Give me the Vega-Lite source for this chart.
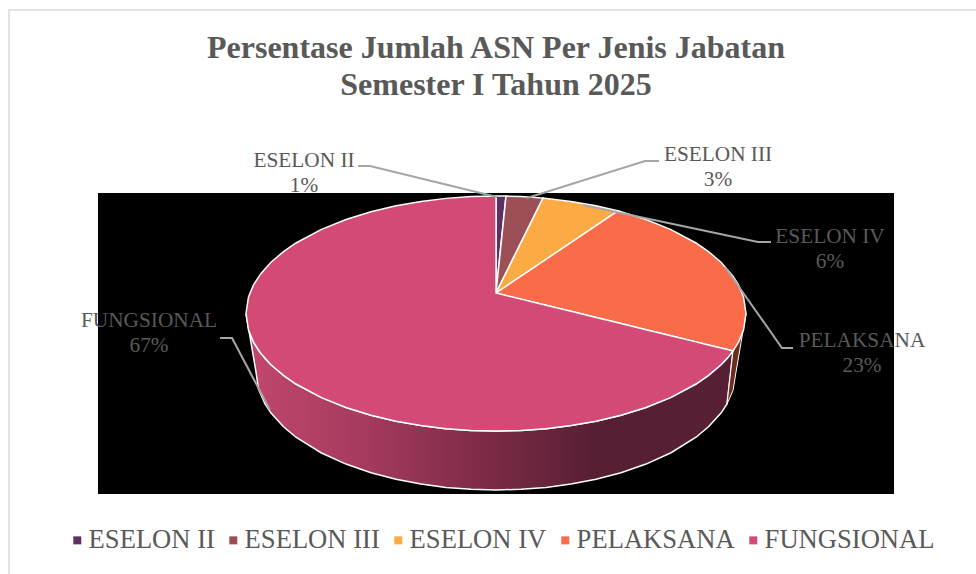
{"$schema":"https://vega.github.io/schema/vega-lite/v6.json","width":976,"height":574,"autosize":"none","padding":0,"background":"white","view":{"stroke":null},
"title":{"text":["Persentase Jumlah ASN Per Jenis Jabatan","Semester I Tahun 2025"],"anchor":"middle","frame":"group","dx":8,"offset":-102,"font":"Liberation Serif","fontSize":32,"fontWeight":"bold","color":"#595959","lineHeight":37},
"datasets":{
"bidang":[{"nama":"latar","x":-1.592,"x2":1.592,"atas":0.851,"bawah":-1.711}],
"bingkai":[{"x":-1.948,"x2":2.5,"atas":2.4085,"bawah":-3}],
"sisi":[
{"jabatan":"FUNGSIONAL","x":-1,"atas":-0.1745,"bawah":-0.1745},{"jabatan":"FUNGSIONAL","x":-0.98,"atas":-0.3735,"bawah":-0.4234},{"jabatan":"FUNGSIONAL","x":-0.96,"atas":-0.4545,"bawah":-0.6723},{"jabatan":"FUNGSIONAL","x":-0.95,"atas":-0.4867,"bawah":-0.8168},{"jabatan":"FUNGSIONAL","x":-0.924,"atas":-0.5569,"bawah":-0.9447},{"jabatan":"FUNGSIONAL","x":-0.9,"atas":-0.6104,"bawah":-1.0217},{"jabatan":"FUNGSIONAL","x":-0.85,"atas":-0.7013,"bawah":-1.139},{"jabatan":"FUNGSIONAL","x":-0.8,"atas":-0.7745,"bawah":-1.2273},{"jabatan":"FUNGSIONAL","x":-0.7,"atas":-0.8886,"bawah":-1.3593},{"jabatan":"FUNGSIONAL","x":-0.6,"atas":-0.9745,"bawah":-1.456},{"jabatan":"FUNGSIONAL","x":-0.5,"atas":-1.0405,"bawah":-1.5293},{"jabatan":"FUNGSIONAL","x":-0.4,"atas":-1.091,"bawah":-1.585},{"jabatan":"FUNGSIONAL","x":-0.3,"atas":-1.1284,"bawah":-1.626},{"jabatan":"FUNGSIONAL","x":-0.2,"atas":-1.1543,"bawah":-1.6543},{"jabatan":"FUNGSIONAL","x":-0.1,"atas":-1.1695,"bawah":-1.6709},{"jabatan":"FUNGSIONAL","x":0,"atas":-1.1745,"bawah":-1.6763},{"jabatan":"FUNGSIONAL","x":0.1,"atas":-1.1695,"bawah":-1.6709},{"jabatan":"FUNGSIONAL","x":0.2,"atas":-1.1543,"bawah":-1.6543},{"jabatan":"FUNGSIONAL","x":0.3,"atas":-1.1284,"bawah":-1.626},{"jabatan":"FUNGSIONAL","x":0.4,"atas":-1.091,"bawah":-1.585},{"jabatan":"FUNGSIONAL","x":0.5,"atas":-1.0405,"bawah":-1.5293},{"jabatan":"FUNGSIONAL","x":0.6,"atas":-0.9745,"bawah":-1.456},{"jabatan":"FUNGSIONAL","x":0.7,"atas":-0.8886,"bawah":-1.3593},{"jabatan":"FUNGSIONAL","x":0.8,"atas":-0.7745,"bawah":-1.2273},{"jabatan":"FUNGSIONAL","x":0.85,"atas":-0.7013,"bawah":-1.139},{"jabatan":"FUNGSIONAL","x":0.9,"atas":-0.6104,"bawah":-1.0217},{"jabatan":"FUNGSIONAL","x":0.924,"atas":-0.5569,"bawah":-0.9447},{"jabatan":"FUNGSIONAL","x":0.948,"atas":-0.4928,"bawah":-0.4928},
{"jabatan":"PELAKSANA","x":0.924,"atas":-0.9447,"bawah":-0.9447},{"jabatan":"PELAKSANA","x":0.948,"atas":-0.4928,"bawah":-0.8303},{"jabatan":"PELAKSANA","x":0.96,"atas":-0.4545,"bawah":-0.6723},{"jabatan":"PELAKSANA","x":0.98,"atas":-0.3735,"bawah":-0.4234},{"jabatan":"PELAKSANA","x":1,"atas":-0.1745,"bawah":-0.1745}
],
"irisan":[
{"jabatan":"ESELON II","x":0,"atas":0.8255,"bawah":0},{"jabatan":"ESELON II","x":0.04,"atas":0.8247,"bawah":0.8247},
{"jabatan":"ESELON III","x":0,"atas":0,"bawah":0},{"jabatan":"ESELON III","x":0.04,"atas":0.8247,"bawah":0.1718},{"jabatan":"ESELON III","x":0.1,"atas":0.8205,"bawah":0.4296},{"jabatan":"ESELON III","x":0.188,"atas":0.8077,"bawah":0.8077},
{"jabatan":"ESELON IV","x":0,"atas":0,"bawah":0},{"jabatan":"ESELON IV","x":0.188,"atas":0.8077,"bawah":0.2691},{"jabatan":"ESELON IV","x":0.3,"atas":0.7794,"bawah":0.4293},{"jabatan":"ESELON IV","x":0.4,"atas":0.742,"bawah":0.5724},{"jabatan":"ESELON IV","x":0.488,"atas":0.6984,"bawah":0.6984},
{"jabatan":"PELAKSANA","x":0,"atas":0,"bawah":0},{"jabatan":"PELAKSANA","x":0.488,"atas":0.6984,"bawah":-0.2537},{"jabatan":"PELAKSANA","x":0.6,"atas":0.6255,"bawah":-0.3119},{"jabatan":"PELAKSANA","x":0.7,"atas":0.5396,"bawah":-0.3639},{"jabatan":"PELAKSANA","x":0.8,"atas":0.4255,"bawah":-0.4158},{"jabatan":"PELAKSANA","x":0.85,"atas":0.3523,"bawah":-0.4418},{"jabatan":"PELAKSANA","x":0.9,"atas":0.2614,"bawah":-0.4678},{"jabatan":"PELAKSANA","x":0.948,"atas":0.1438,"bawah":-0.4928},{"jabatan":"PELAKSANA","x":0.97,"atas":0.0686,"bawah":-0.4176},{"jabatan":"PELAKSANA","x":0.99,"atas":-0.0334,"bawah":-0.3156},{"jabatan":"PELAKSANA","x":1,"atas":-0.1745,"bawah":-0.1745},
{"jabatan":"FUNGSIONAL","x":-1,"atas":-0.1745,"bawah":-0.1745},{"jabatan":"FUNGSIONAL","x":-0.99,"atas":-0.0334,"bawah":-0.3156},{"jabatan":"FUNGSIONAL","x":-0.97,"atas":0.0686,"bawah":-0.4176},{"jabatan":"FUNGSIONAL","x":-0.94,"atas":0.1667,"bawah":-0.5157},{"jabatan":"FUNGSIONAL","x":-0.9,"atas":0.2614,"bawah":-0.6104},{"jabatan":"FUNGSIONAL","x":-0.85,"atas":0.3523,"bawah":-0.7013},{"jabatan":"FUNGSIONAL","x":-0.8,"atas":0.4255,"bawah":-0.7745},{"jabatan":"FUNGSIONAL","x":-0.7,"atas":0.5396,"bawah":-0.8886},{"jabatan":"FUNGSIONAL","x":-0.6,"atas":0.6255,"bawah":-0.9745},{"jabatan":"FUNGSIONAL","x":-0.5,"atas":0.6915,"bawah":-1.0405},{"jabatan":"FUNGSIONAL","x":-0.4,"atas":0.742,"bawah":-1.091},{"jabatan":"FUNGSIONAL","x":-0.3,"atas":0.7794,"bawah":-1.1284},{"jabatan":"FUNGSIONAL","x":-0.2,"atas":0.8053,"bawah":-1.1543},{"jabatan":"FUNGSIONAL","x":-0.1,"atas":0.8205,"bawah":-1.1695},{"jabatan":"FUNGSIONAL","x":0,"atas":0.8255,"bawah":-1.1745},{"jabatan":"FUNGSIONAL","x":0,"atas":0,"bawah":-1.1745},{"jabatan":"FUNGSIONAL","x":0.1,"atas":-0.052,"bawah":-1.1695},{"jabatan":"FUNGSIONAL","x":0.2,"atas":-0.104,"bawah":-1.1543},{"jabatan":"FUNGSIONAL","x":0.3,"atas":-0.156,"bawah":-1.1284},{"jabatan":"FUNGSIONAL","x":0.4,"atas":-0.208,"bawah":-1.091},{"jabatan":"FUNGSIONAL","x":0.5,"atas":-0.26,"bawah":-1.0405},{"jabatan":"FUNGSIONAL","x":0.6,"atas":-0.312,"bawah":-0.9745},{"jabatan":"FUNGSIONAL","x":0.7,"atas":-0.364,"bawah":-0.8886},{"jabatan":"FUNGSIONAL","x":0.8,"atas":-0.416,"bawah":-0.7745},{"jabatan":"FUNGSIONAL","x":0.85,"atas":-0.442,"bawah":-0.7013},{"jabatan":"FUNGSIONAL","x":0.9,"atas":-0.468,"bawah":-0.6104},{"jabatan":"FUNGSIONAL","x":0.93,"atas":-0.4834,"bawah":-0.5421},{"jabatan":"FUNGSIONAL","x":0.948,"atas":-0.4928,"bawah":-0.4928}
],
"garis":[
{"jabatan":"ESELON II","urut":1,"x":-0.552,"y":1.081},{"jabatan":"ESELON II","urut":2,"x":-0.504,"y":1.081},{"jabatan":"ESELON II","urut":3,"x":0.004,"y":0.817},
{"jabatan":"ESELON III","urut":1,"x":0.652,"y":1.123},{"jabatan":"ESELON III","urut":2,"x":0.596,"y":1.123},{"jabatan":"ESELON III","urut":3,"x":0.124,"y":0.8085},
{"jabatan":"ESELON IV","urut":1,"x":1.1,"y":0.434},{"jabatan":"ESELON IV","urut":2,"x":1.048,"y":0.434},{"jabatan":"ESELON IV","urut":3,"x":0.348,"y":0.749},
{"jabatan":"PELAKSANA","urut":1,"x":1.188,"y":-0.468},{"jabatan":"PELAKSANA","urut":2,"x":1.144,"y":-0.468},{"jabatan":"PELAKSANA","urut":3,"x":0.916,"y":0.221},
{"jabatan":"FUNGSIONAL","urut":1,"x":-1.104,"y":-0.383},{"jabatan":"FUNGSIONAL","urut":2,"x":-1.056,"y":-0.383},{"jabatan":"FUNGSIONAL","urut":3,"x":-0.904,"y":-0.996}
],
"label":[
{"jabatan":"ESELON II","persen":1,"teks":"ESELON II\n1%","x":-0.768,"y":1.072},
{"jabatan":"ESELON III","persen":3,"teks":"ESELON III\n3%","x":0.888,"y":1.123},
{"jabatan":"ESELON IV","persen":6,"teks":"ESELON IV\n6%","x":1.336,"y":0.4255},
{"jabatan":"PELAKSANA","persen":23,"teks":"PELAKSANA\n23%","x":1.464,"y":-0.4596},
{"jabatan":"FUNGSIONAL","persen":67,"teks":"FUNGSIONAL\n67%","x":-1.388,"y":-0.2894}
]},
"encoding":{
"x":{"field":"x","type":"quantitative","axis":null,"scale":{"domain":[-1.984,1.92],"nice":false,"zero":false}}
},
"resolve":{"scale":{"y":"shared","x":"shared"}},
"layer":[
{"data":{"name":"bingkai"},"mark":{"type":"rect","fillOpacity":0,"stroke":"#d9d9d9","strokeWidth":1.5,"clip":true},"encoding":{"x2":{"field":"x2"},"y":{"field":"atas","type":"quantitative","axis":null,"scale":{"domain":[-2.3915,2.4936],"nice":false,"zero":false}},"y2":{"field":"bawah"}}},
{"data":{"name":"bidang"},"mark":{"type":"rect","color":"#000000"},"encoding":{"x2":{"field":"x2"},"y":{"field":"atas","type":"quantitative"},"y2":{"field":"bawah"}}},
{"data":{"name":"sisi"},"transform":[{"filter":"datum.jabatan==='FUNGSIONAL'"}],"mark":{"type":"area","stroke":"white","strokeWidth":1.5,"fill":{"gradient":"linear","x1":0,"y1":0,"x2":1,"y2":0,"stops":[{"offset":0,"color":"#c2476e"},{"offset":0.25,"color":"#a43a5d"},{"offset":0.5,"color":"#7b2a46"},{"offset":0.72,"color":"#561f33"},{"offset":1,"color":"#561f33"}]}},"encoding":{"y":{"field":"atas","type":"quantitative"},"y2":{"field":"bawah"}}},
{"data":{"name":"sisi"},"transform":[{"filter":"datum.jabatan==='PELAKSANA'"}],"mark":{"type":"area","stroke":"white","strokeWidth":1,"fill":"#6b2d1c"},"encoding":{"y":{"field":"atas","type":"quantitative"},"y2":{"field":"bawah"}}},
{"data":{"name":"irisan"},"mark":{"type":"area","stroke":"white","strokeWidth":1.5,"opacity":1},"encoding":{"y":{"field":"atas","type":"quantitative"},"y2":{"field":"bawah"},"color":{"field":"jabatan","type":"nominal","scale":{"domain":["ESELON II","ESELON III","ESELON IV","PELAKSANA","FUNGSIONAL"],"range":["#5f3163","#9c4f57","#fcab44","#f96b49","#d34a75"]},"legend":{"title":null,"orient":"none","legendX":64,"legendY":527,"direction":"horizontal","columns":5,"symbolType":"square","symbolSize":64,"symbolStrokeWidth":0,"symbolOpacity":1,"labelFont":"Liberation Serif","labelFontSize":26.6,"labelColor":"#595959","labelOffset":-2,"columnPadding":5,"labelLimit":300}}}},
{"data":{"name":"garis"},"mark":{"type":"line","color":"#a6a6a6","strokeWidth":2},"encoding":{"y":{"field":"y","type":"quantitative"},"detail":{"field":"jabatan"},"order":{"field":"urut"}}},
{"data":{"name":"label"},"mark":{"type":"text","font":"Liberation Serif","fontSize":21.3,"color":"#595959","align":"center","baseline":"alphabetic","lineBreak":"\n","lineHeight":25},"encoding":{"y":{"field":"y","type":"quantitative"},"text":{"field":"teks"}}}
]}
